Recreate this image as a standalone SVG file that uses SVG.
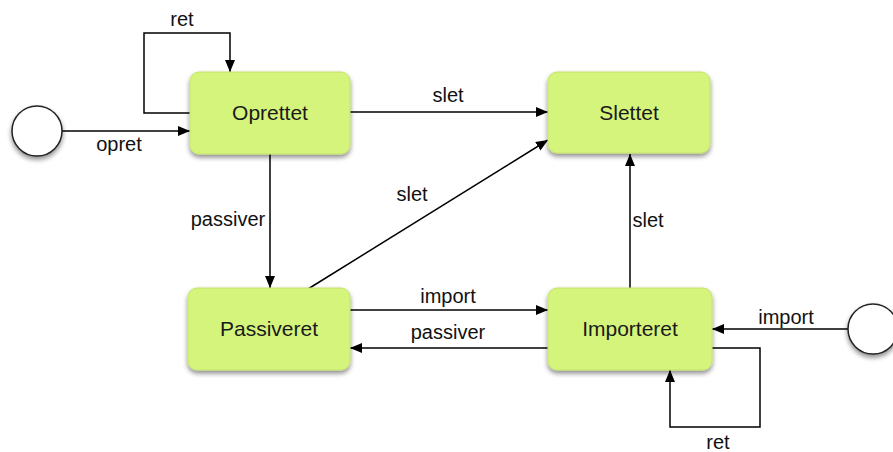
<svg xmlns="http://www.w3.org/2000/svg" width="893" height="452" viewBox="0 0 893 452">
<defs>
<filter id="sh" x="-20%" y="-20%" width="140%" height="150%">
<feGaussianBlur in="SourceAlpha" stdDeviation="2.5"/>
<feOffset dx="0" dy="3" result="b"/>
<feComponentTransfer><feFuncA type="linear" slope="0.45"/></feComponentTransfer>
<feMerge><feMergeNode/><feMergeNode in="SourceGraphic"/></feMerge>
</filter>
<marker id="ah" viewBox="0 0 12 10" refX="12" refY="5" markerWidth="12" markerHeight="10" markerUnits="userSpaceOnUse" orient="auto">
<path d="M0,0 L12,5 L0,10 Z" fill="#000"/>
</marker>
</defs>
<style>
.st{fill:#d5f47c;stroke:#c4e46a;stroke-width:1;filter:url(#sh)}
.ini{fill:#fff;stroke:#222;stroke-width:1.5;filter:url(#sh)}
.nt{font-family:"Liberation Sans",Arial,sans-serif;font-size:21px;fill:#1a1a1a;text-anchor:middle}
.lb{font-family:"Liberation Sans",Arial,sans-serif;font-size:20px;fill:#111;text-anchor:middle}
.c{fill:none;stroke:#000;stroke-width:1.5;marker-end:url(#ah)}
</style>
<rect width="893" height="452" fill="#fff"/>
<g id="connectors">
<path class="c" d="M62,131 H190"/>
<path class="c" d="M190,113 H144 V33 H230 V72"/>
<path class="c" d="M350,112 H548"/>
<path class="c" d="M270,154 V288"/>
<path class="c" d="M308,289 L548,140"/>
<path class="c" d="M350,310 H548"/>
<path class="c" d="M548,348 H350"/>
<path class="c" d="M630,288 V154"/>
<path class="c" d="M848,329 H712"/>
<path class="c" d="M712,348 H760 V427 H670 V370"/>
<text class="lb" x="119" y="151">opret</text>
<text class="lb" x="182" y="26">ret</text>
<text class="lb" x="448" y="102">slet</text>
<text class="lb" x="228" y="226">passiver</text>
<text class="lb" x="412" y="201">slet</text>
<text class="lb" x="448" y="303">import</text>
<text class="lb" x="448" y="339">passiver</text>
<text class="lb" x="648" y="227">slet</text>
<text class="lb" x="786" y="324">import</text>
<text class="lb" x="718" y="449">ret</text>
</g>
<g id="init1"><circle class="ini" cx="37" cy="131" r="25"/></g>
<g id="init2"><circle class="ini" cx="873" cy="329" r="25"/></g>
<g id="oprettet"><rect class="st" x="190" y="72" width="160" height="82" rx="9"/><text class="nt" x="270" y="120">Oprettet</text></g>
<g id="slettet"><rect class="st" x="548" y="72" width="162" height="81" rx="9"/><text class="nt" x="629" y="120">Slettet</text></g>
<g id="passiveret"><rect class="st" x="188" y="288" width="162" height="82" rx="9"/><text class="nt" x="269" y="336">Passiveret</text></g>
<g id="importeret"><rect class="st" x="548" y="288" width="164" height="82" rx="9"/><text class="nt" x="630" y="336">Importeret</text></g>
</svg>
